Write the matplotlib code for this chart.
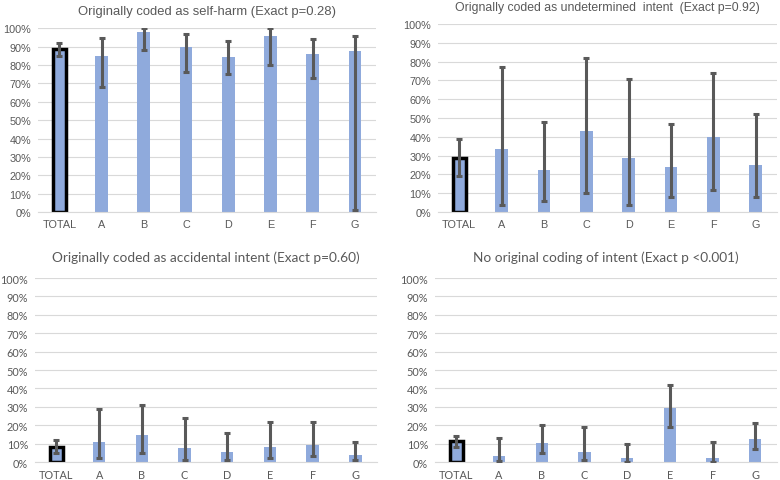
import matplotlib
matplotlib.use("Agg")
import matplotlib.pyplot as plt
import numpy as np
from matplotlib.ticker import PercentFormatter

categories = ["TOTAL", "A", "B", "C", "D", "E", "F", "G"]

# panel 1: originally coded as self-harm
self_harm = [89, 85, 98, 90, 84.5, 96, 86, 87.5]
self_harm_lo = [85, 68, 88, 76, 75, 80, 73, 1]
self_harm_hi = [92, 95, 100, 97, 93, 100, 94, 96]

# panel 2: undetermined intent
undetermined = [28.5, 33.5, 22.5, 43, 29, 24, 40, 25]
undetermined_lo = [19, 4, 6, 10, 4, 8, 12, 8]
undetermined_hi = [39, 77, 48, 82, 71, 47, 74, 52]

# panel 3: accidental intent
accidental = [8, 11, 14.5, 7.5, 5.5, 8, 9.5, 4]
accidental_lo = [5, 2, 5, 1, 1, 2, 3, 1]
accidental_hi = [12, 29, 31, 24, 16, 22, 22, 11]

# panel 4: no original coding
no_coding = [11.5, 3.5, 10.5, 5.5, 2, 29.5, 2, 12.5]
no_coding_lo = [8, 0.5, 5, 1, 0, 19, 0, 7]
no_coding_hi = [14, 13, 20, 19, 10, 42, 11, 21]

titles = [
    "Originally coded as self-harm (Exact p=0.28)",
    "Orignally coded as undetermined  intent  (Exact p=0.92)",
    "Originally coded as accidental intent (Exact p=0.60)",
    "No original coding of intent (Exact p <0.001)",
]

bar_color = "#8faadc"
err_color = "#595959"
text_color = "#595959"
grid_color = "#d9d9d9"

fig = plt.figure(figsize=(7.8, 4.81), dpi=100)

# data, bounds, axes rect, font, bar width, title size, title pad
panels = [
    (self_harm, self_harm_lo, self_harm_hi, [0.049, 0.557, 0.433, 0.382], "Liberation Sans", 0.3, 9.4, 10),
    (undetermined, undetermined_lo, undetermined_hi, [0.5615, 0.557, 0.4346, 0.391], "Liberation Sans", 0.3, 8.8, 10),
    (accidental, accidental_lo, accidental_hi, [0.045, 0.0374, 0.438, 0.3825], "Lato", 0.29, 9.8, 12),
    (no_coding, no_coding_lo, no_coding_hi, [0.5577, 0.0374, 0.438, 0.3825], "Lato", 0.29, 9.8, 12),
]

x = np.arange(len(categories))
for (vals, lo, hi, pos, font, width, tsize, tpad), title in zip(panels, titles):
    ax = fig.add_axes(pos)
    vals = np.array(vals)
    yerr = [vals - np.array(lo), np.array(hi) - vals]
    bars = ax.bar(x, vals, width=width, color=bar_color, zorder=2)
    bars[0].set_edgecolor("black")
    bars[0].set_linewidth(2.5)
    ax.errorbar(x, vals, yerr=yerr, fmt="none", ecolor=err_color, elinewidth=2.2,
                capsize=2.3, capthick=2.2, zorder=3)
    ax.set_xlim(-0.5, 7.5)
    ax.set_ylim(0, 100)
    ax.set_yticks(np.arange(0, 101, 10))
    ax.yaxis.set_major_formatter(PercentFormatter(decimals=0))
    ax.set_xticks(x)
    ax.set_xticklabels(categories)
    ax.grid(axis="y", color=grid_color, linewidth=0.8, zorder=0)
    for s in ["top", "right", "left"]:
        ax.spines[s].set_visible(False)
    ax.spines["bottom"].set_color(grid_color)
    ax.tick_params(length=0, labelsize=7.8, colors=text_color, pad=5)
    for lab in ax.get_xticklabels() + ax.get_yticklabels():
        lab.set_fontfamily(font)
    ax.set_title(title, fontsize=tsize, color=text_color, fontfamily=font, pad=tpad)

fig.savefig("out.png", dpi=100)
